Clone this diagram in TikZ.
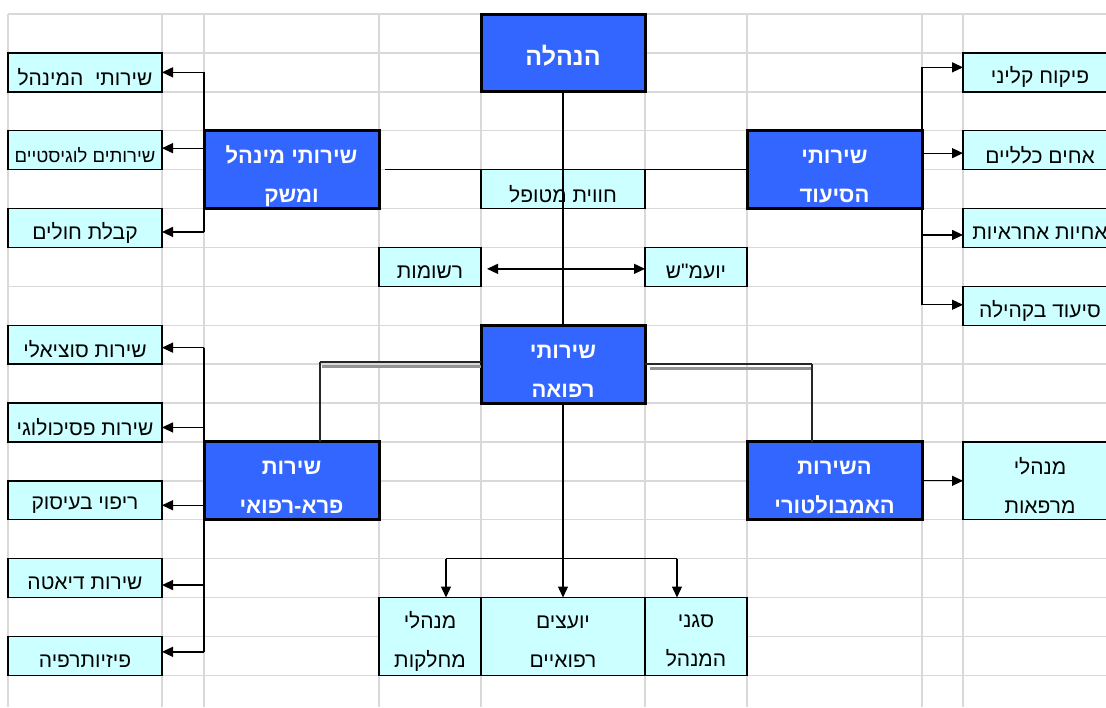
\documentclass[tikz,border=0pt]{standalone}
\usepackage{fontspec}
\newfontfamily\heb[Script=Hebrew]{Liberation Sans}
\TeXXeTstate=1
\usetikzlibrary{arrows.meta,calc}
\newcommand\RL[1]{\beginR #1\endR}
\newcommand\cellnode[8]{%
  \node[#1, minimum width={(#6)-(#4)}, minimum height={(#7)-(#5)}] (#3) at ({((#4)+(#6))/2},{((#5)+(#7))/2}) {};
  \node[#2] (#3-t) at (#3.center) {#8};}
\definecolor{boxblue}{HTML}{3366FF}
\definecolor{boxcyan}{HTML}{CCFFFF}
\definecolor{gridgray}{HTML}{D9D9D9}
\begin{document}
\begin{tikzpicture}[x=1pt,y=-1pt,
  gridline/.style={draw=gridgray, line width=1.4pt},
  bluebox/.style={draw=black, line width=3pt, fill=boxblue, inner sep=0pt, outer sep=0pt},
  bluetext/.style={inner sep=0pt, text=white, font=\heb\bfseries\fontsize{22}{39}\selectfont, align=center, yshift=-7pt},
  cyanbox/.style={draw=black, line width=1.4pt, fill=boxcyan, inner sep=0pt, outer sep=0pt},
  cyantext/.style={inner sep=0pt, text=black, font=\heb\fontsize{21}{39}\selectfont, align=center, yshift=-5pt},
  conn/.style={draw=black, line width=1.3pt},
  arr/.style={conn, -{Triangle[length=11pt,width=10pt]}},
  dbl/.style={conn, {Triangle[length=11pt,width=10pt]}-{Triangle[length=11pt,width=10pt]}},
  grayshadow/.style={draw=gray!85, line width=3pt},
  thinblk/.style={draw=black!85, line width=1.2pt},
]
\useasboundingbox (0,0) rectangle (1106,707);
\clip (0,0) rectangle (1106,707);
\fill[white] (0,0) rectangle (1106,707);
% grid
\foreach \k in {0,...,18} {\draw[gridline] (8,{14+38.9*\k}) -- (1106,{14+38.9*\k});}
\foreach \x in {8,162,204,379,481,645,747,922,963} {\draw[gridline] (\x,14) -- (\x,707);}

% top
\cellnode{bluebox}{bluetext, font=\heb\bfseries\fontsize{25}{39}\selectfont, yshift=4pt}{han}{481}{14}{645}{91.8}{\RL{הנהלה}}
\cellnode{cyanbox}{cyantext}{hav}{481}{169.6}{645}{208.5}{\RL{חווית מטופל}}
\cellnode{cyanbox}{cyantext}{rsh}{379}{247.4}{481}{286.3}{\RL{רשומות}}
\cellnode{cyanbox}{cyantext}{yoam}{645}{247.4}{747}{286.3}{\RL{יועמ"ש}}

% minhal
\cellnode{bluebox}{bluetext}{mnh}{204}{130.7}{379}{208.5}{\RL{שירותי מינהל}\\\RL{ומשק}}
\cellnode{cyanbox}{cyantext}{m1}{8}{52.9}{162}{91.8}{\RL{שירותי\ \ המינהל}}
\cellnode{cyanbox}{cyantext, font=\heb\fontsize{18.5}{39}\selectfont}{m2}{8}{130.7}{162}{169.6}{\RL{שירותים לוגיסטיים}}
\cellnode{cyanbox}{cyantext}{m3}{8}{208.5}{162}{247.4}{\RL{קבלת חולים}}

% siud
\cellnode{bluebox}{bluetext}{siud}{747}{130.7}{922}{208.5}{\RL{שירותי}\\\RL{הסיעוד}}
\cellnode{cyanbox}{cyantext}{s1}{963}{52.9}{1117}{91.8}{\RL{פיקוח קליני}}
\cellnode{cyanbox}{cyantext}{s2}{963}{130.7}{1117}{169.6}{\RL{אחים כלליים}}
\cellnode{cyanbox}{cyantext}{s3}{963}{208.5}{1117}{247.4}{\RL{אחיות אחראיות}}
\cellnode{cyanbox}{cyantext}{s4}{963}{286.3}{1117}{325.2}{\RL{סיעוד בקהילה}}

% refua
\cellnode{bluebox}{bluetext}{ref}{481}{325.2}{645}{403}{\RL{שירותי}\\\RL{רפואה}}

% para
\cellnode{bluebox}{bluetext}{pr}{204}{441.9}{379}{519.7}{\RL{שירות}\\\RL{פרא-רפואי}}
\cellnode{cyanbox}{cyantext}{p1}{8}{325.2}{162}{364.1}{\RL{שירות סוציאלי}}
\cellnode{cyanbox}{cyantext}{p2}{8}{403}{162}{441.9}{\RL{שירות פסיכולוגי}}
\cellnode{cyanbox}{cyantext}{p3}{8}{480.8}{162}{519.7}{\RL{ריפוי בעיסוק}}
\cellnode{cyanbox}{cyantext}{p4}{8}{558.6}{162}{597.5}{\RL{שירות דיאטה}}
\cellnode{cyanbox}{cyantext}{p5}{8}{636.4}{162}{675.3}{\RL{פיזיותרפיה}}

% ambulatory
\cellnode{bluebox}{bluetext}{amb}{747}{441.9}{922}{519.7}{\RL{השירות}\\\RL{האמבולטורי}}
\cellnode{cyanbox}{cyantext}{mrp}{963}{441.9}{1117}{519.7}{\RL{מנהלי}\\\RL{מרפאות}}

% bottom
\cellnode{cyanbox}{cyantext}{b1}{379}{597.5}{481}{675.3}{\RL{מנהלי}\\\RL{מחלקות}}
\cellnode{cyanbox}{cyantext}{b2}{481}{597.5}{645}{675.3}{\RL{יועצים}\\\RL{רפואיים}}
\cellnode{cyanbox}{cyantext}{b3}{645}{597.5}{747}{675.3}{\RL{סגני}\\\RL{המנהל}}

% connectors: trunk
\draw[conn] (han.south) -- (ref.north);
\draw[conn] ($(mnh.east)+(6,0)$) -- (siud.west);
\draw[dbl] ($(rsh.east)+(6,2)$) -- ($(yoam.west)+(0,2)$);

% minhal bus
\draw[conn] (mnh.west |- m1.east) -- ($(mnh.west |- m3.east)+(0,4)$);
\draw[arr] (mnh.west |- m1.east) -- (m1.east);
\draw[arr] ($(mnh.west |- m2.east)+(0,-2)$) -- ($(m2.east)+(0,-2)$);
\draw[arr] ($(mnh.west |- m3.east)+(0,4)$) -- ($(m3.east)+(0,4)$);

% siud bus
\draw[conn] ($(siud.east |- s1.west)+(0,-5)$) -- ($(siud.east |- s4.west)+(0,-1)$);
\draw[arr] ($(siud.east |- s1.west)+(0,-5)$) -- ($(s1.west)+(0,-5)$);
\draw[arr] ($(siud.east |- s2.west)+(0,3)$) -- ($(s2.west)+(0,3)$);
\draw[arr] ($(siud.east |- s3.west)+(0,7)$) -- ($(s3.west)+(0,7)$);
\draw[arr] ($(siud.east |- s4.west)+(0,-1)$) -- ($(s4.west)+(0,-1)$);

% para bus
\draw[conn] ($(pr.west |- p1.east)+(0,3)$) -- ($(pr.west |- p5.east)+(0,-4)$);
\draw[arr] ($(pr.west |- p1.east)+(0,3)$) -- ($(p1.east)+(0,3)$);
\draw[arr] ($(pr.west |- p2.east)+(0,5)$) -- ($(p2.east)+(0,5)$);
\draw[arr] ($(pr.west |- p3.east)+(0,5)$) -- ($(p3.east)+(0,5)$);
\draw[arr] ($(pr.west |- p4.east)+(0,7)$) -- ($(p4.east)+(0,7)$);
\draw[arr] ($(pr.west |- p5.east)+(0,-4)$) -- ($(p5.east)+(0,-4)$);

% ambulatory
\draw[arr] (amb.east) -- (amb.east -| mrp.west);

% refua to para and ambulatory (shadowed lines)
\coordinate (gl) at (320,362);
\coordinate (gr) at (812,364);
\draw[grayshadow] ($(gl)+(2,4)$) -- ($(gl -| ref.west)+(0,4)$);
\draw[thinblk] (gl) -- (gl -| ref.west);
\draw[thinblk] (gl) -- (gl |- pr.north);
\draw[grayshadow] ($(gr -| ref.east)+(5,4)$) -- ($(gr)+(0,4)$);
\draw[thinblk] (gr -| ref.east) -- (gr);
\draw[thinblk] (gr) -- (gr |- amb.north);

% refua to bottom
\coordinate (bl) at (446,558.6);
\coordinate (br) at (677,558.6);
\draw[conn] (bl) -- (br);
\draw[arr] (ref.south) -- (ref.south |- b2.north);
\draw[arr] (bl) -- (bl |- b1.north);
\draw[arr] (br) -- (br |- b3.north);
\end{tikzpicture}
\end{document}
